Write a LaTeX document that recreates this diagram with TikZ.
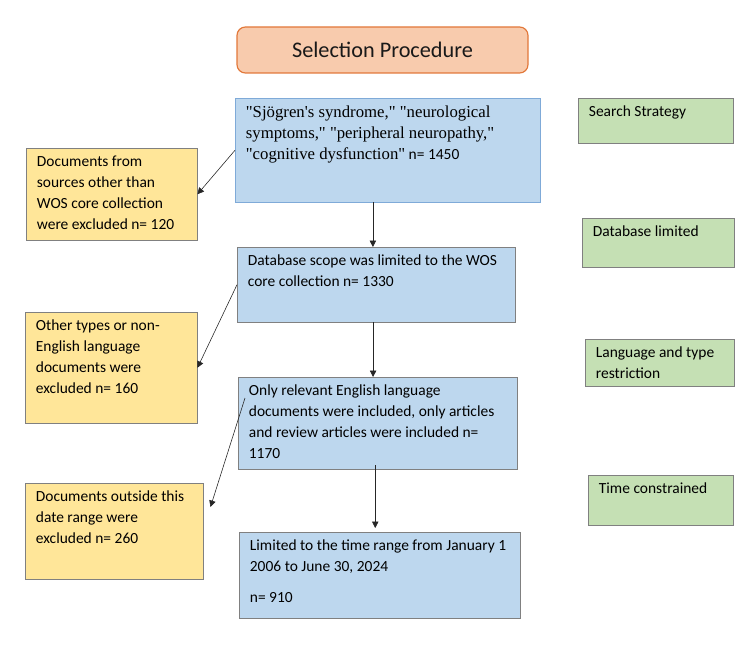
\documentclass[tikz,border=0pt]{standalone}
\usepackage{fontspec}
\setmainfont{Carlito}
\newfontfamily\timesfont[Ligatures=TeXOff]{Liberation Serif}
\usepackage{tikz}
\usetikzlibrary{arrows.meta}

\definecolor{titlefill}{HTML}{F8CBAD}
\definecolor{titleline}{HTML}{E2783A}
\definecolor{stagefill}{HTML}{BDD7EE}
\definecolor{searchline}{HTML}{7FAAD8}
\definecolor{exclfill}{HTML}{FFE699}
\definecolor{notefill}{HTML}{C5E0B4}
\definecolor{boxline}{HTML}{808080}

\newcommand{\boxtext}[3]{\parbox[c][#2][t]{#1}{\raggedright #3}}

\begin{document}
\begin{tikzpicture}[
  stage/.style={draw=boxline, fill=stagefill, anchor=north west, inner xsep=0.32cm, inner ysep=0.24cm, font=\fontsize{13.2}{17.8}\selectfont},
  excl/.style={stage, fill=exclfill},
  note/.style={stage, fill=notefill},
  arr/.style={draw=black!85, line width=0.6pt, -{Triangle[length=5.5pt,width=5.5pt]}}]
\useasboundingbox (0,0) rectangle (22.5,19.53);
\node[draw=titleline, line width=1pt, fill=titlefill, rounded corners=0.25cm, minimum width=8.73cm, minimum height=1.38cm, font=\fontsize{19}{23}\selectfont, text=black!90] (title) at (11.475,18.03) {Selection Procedure};
\node[stage, draw=searchline] (search) at (7.05,16.59) {\boxtext{8.51cm}{2.64cm}{{\timesfont\fontsize{14.3}{17.8}\selectfont "Sjögren's syndrome," "neurological\\ symptoms," "peripheral neuropathy,"\\ "cognitive dysfunction"} n= 1450}};
\node[stage] (scope) at (7.11,12.12) {\boxtext{7.70cm}{1.77cm}{Database scope was limited to the WOS\\ core collection n= 1330}};
\node[stage] (language) at (7.14,8.22) {\boxtext{7.73cm}{2.28cm}{Only relevant English language\\ documents were included, only articles\\ and review articles were included n=\\ 1170}};
\node[stage] (time) at (7.17,3.57) {\boxtext{7.79cm}{2.10cm}{Limited to the time range from January 1\\ 2006 to June 30, 2024\\[0.3cm] n= 910}};
\node[excl] (excl1) at (0.78,15.09) {\boxtext{4.49cm}{2.28cm}{Documents from\\ sources other than\\ WOS core collection\\ were excluded n= 120}};
\node[excl] (excl2) at (0.75,10.17) {\boxtext{4.52cm}{2.85cm}{Other types or non-\\ English language\\ documents were\\ excluded n= 160}};
\node[excl] (excl3) at (0.75,5.04) {\boxtext{4.70cm}{2.40cm}{Documents outside this\\ date range were\\ excluded n= 260}};
\node[note] (strategy) at (17.34,16.59) {\boxtext{4.01cm}{0.87cm}{Search Strategy}};
\node[note] (dblimit) at (17.46,12.99) {\boxtext{3.92cm}{0.99cm}{Database limited}};
\node[note] (langtype) at (17.55,9.36) {\boxtext{3.83cm}{0.93cm}{Language and type\\ restriction}};
\node[note] (timelimit) at (17.64,5.28) {\boxtext{3.71cm}{1.02cm}{Time constrained}};
\draw[arr] ([xshift=-0.1cm]scope.north |- search.south) -- ([xshift=-0.1cm]scope.north);
\draw[arr] ([xshift=-0.14cm]language.north |- scope.south) -- ([xshift=-0.14cm]language.north);
\draw[arr] ([xshift=-0.135cm, yshift=0.12cm]time.north |- language.south) -- ([xshift=-0.135cm, yshift=0.12cm]time.north);
\draw[arr, line width=0.5pt] (search.west) -- (excl1.east);
\draw[arr, line width=0.5pt] (scope.west) -- (excl2.east);
\draw[arr, line width=0.5pt] ([xshift=0.21cm, yshift=-0.63cm]language.north west) -- ([xshift=0.21cm, yshift=-0.72cm]excl3.north east);
\end{tikzpicture}
\end{document}
